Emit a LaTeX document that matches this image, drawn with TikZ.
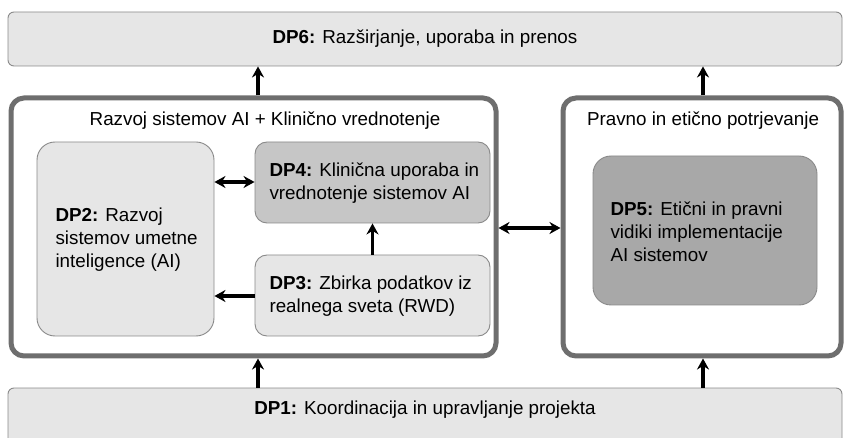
\documentclass[tikz,border=0pt]{standalone}
\usepackage{fontspec}
\setmainfont{Liberation Sans}
\usetikzlibrary{arrows.meta}
\definecolor{boxlight}{HTML}{E6E6E6}
\definecolor{boxmid}{HTML}{C6C6C6}
\definecolor{boxdark}{HTML}{A8A8A8}
\definecolor{frame}{HTML}{6E6E6E}
\definecolor{edge}{HTML}{8A8A8A}
\tikzset{
  txt/.style={font=\fontsize{18.8}{23}\selectfont},
  band/.style={draw=edge, line width=0.9pt, fill=boxlight, rounded corners=6pt},
  group/.style={draw=frame, line width=5pt, fill=white, rounded corners=13pt},
  wp/.style={draw=edge, line width=0.9pt, rounded corners=18pt},
  tip/.style={Stealth[length=11pt,width=12pt]},
  flow/.style={line width=3.4pt, -{Stealth[length=11pt,width=12pt]}},
  both/.style={line width=3.4pt, {Stealth[length=11pt,width=12pt]}-{Stealth[length=11pt,width=12pt]}},
}
\begin{document}
\begin{tikzpicture}[x=1pt,y=-1pt]
\useasboundingbox (0,0) rectangle (849,438);

% top and bottom bands
\node[band, minimum width=834pt, minimum height=54pt, txt] (dp6) at (425,39)
  {\textbf{DP6:} Razširjanje, uporaba in prenos};
\node[band, minimum width=834pt, minimum height=60pt, txt] (dp1) at (425,418) {};
\node[txt] (dp1t) at (425,410) {\textbf{DP1:} Koordinacija in upravljanje projekta};

% the two group frames
\node[group, minimum width=485pt, minimum height=258pt] (g1) at (253.5,227) {};
\node[group, minimum width=278pt, minimum height=258pt] (g2) at (702,227) {};
\node[txt] (g1t) at (265,121) {Razvoj sistemov AI + Klinično vrednotenje};
\node[txt] (g2t) at (703,121) {Pravno in etično potrjevanje};

% work packages
\node[wp, fill=boxlight, minimum width=177pt, minimum height=194pt] (dp2) at (125.5,239) {};
\node[txt, align=left, anchor=west] at (52,240)
  {\textbf{DP2:} Razvoj\\sistemov umetne\\inteligence (AI)};

\node[wp, fill=boxmid, minimum width=235pt, minimum height=81pt, rounded corners=12pt] (dp4) at (372.5,182.5) {};
\node[txt, align=left, anchor=west] at (266,183)
  {\textbf{DP4:} Klinična uporaba in\\vrednotenje sistemov AI};

\node[wp, fill=boxlight, minimum width=235pt, minimum height=81pt, rounded corners=12pt] (dp3) at (372.5,295.5) {};
\node[txt, align=left, anchor=west] at (266,296)
  {\textbf{DP3:} Zbirka podatkov iz\\realnega sveta (RWD)};

\node[wp, fill=boxdark, minimum width=224pt, minimum height=149pt] (dp5) at (705,230.5) {};
\node[txt, align=left, anchor=west] at (607,232)
  {\textbf{DP5:} Etični in pravni\\vidiki implementacije\\AI sistemov};

% connectors
\draw[flow] (g1.north -| 258,0) -- (dp6.south -| 258,0);
\draw[flow] (g2.north -| 703,0) -- (dp6.south -| 703,0);
\draw[flow] (dp1.north -| 258,0) -- (g1.south -| 258,0);
\draw[flow] (dp1.north -| 703,0) -- (g2.south -| 703,0);
\draw[both] (dp2.east |- 0,182) -- (dp4.west |- 0,182);
\draw[flow] (dp3.west |- 0,296) -- (dp2.east |- 0,296);
\draw[flow] (dp3.north) -- (dp4.south);
\draw[both] (g1.east |- 0,228) -- (g2.west |- 0,228);
\end{tikzpicture}
\end{document}
